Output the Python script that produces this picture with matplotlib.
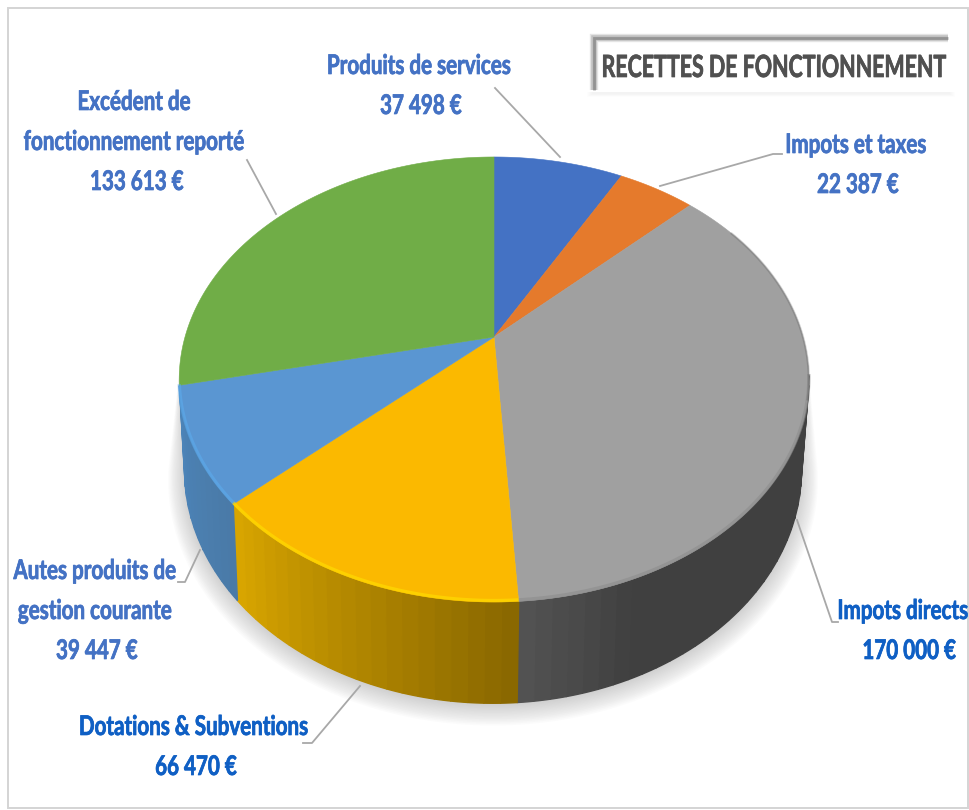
import numpy as np
import matplotlib
matplotlib.use("Agg")
import matplotlib.pyplot as plt
import matplotlib.patheffects as pe
from matplotlib.patches import Polygon, Rectangle
from matplotlib.collections import PolyCollection
from matplotlib.colors import to_rgb
from matplotlib import font_manager as fm
from fontTools.ttLib import TTFont

# ---------- data ----------
title = "RECETTES DE FONCTIONNEMENT"
categories = ["Produits de services", "Impots et taxes", "Impots directs",
              "Dotations & Subventions", "Autes produits de\ngestion courante",
              "Excédent de\nfonctionnement reporté"]
values = [37498, 22387, 170000, 66470, 39447, 133613]
top_colors = ["#4472c4", "#e57a2c", "#a0a0a0", "#fbb900", "#5a96d2", "#70ad47"]
rim_colors = ["#4472c4", "#e57a2c", "#8c8c8c", "#ffe000", "#5cabec", "#70ad47"]
side_start = ["#35599b", "#b25f22", "#404040", "#8a6800", "#4a7aa8", "#578636"]
side_end = ["#35599b", "#b25f22", "#525252", "#d8a500", "#4c84b8", "#578636"]
label_colors = ["#4472c4", "#4472c4", "#0f5fc4", "#0f5fc4", "#4472c4", "#4472c4"]
label_centers = [(419, 66), (856, 145), (903, 611), (194, 727), (95, 571), (134, 102)]
value_offsets = [2, 2, 6, 2, 2, 3]
leaders = [[(560, 157), (495, 88)],
           [(660, 186), (773, 154), (782, 154)],
           [(797, 520), (832, 622), (838, 622)],
           [(360, 686), (312, 743), (303, 743)],
           [(200, 550), (185, 582), (178, 582)],
           [(276, 214), (247, 160)]]

# ---------- style / layout ----------
W, H = 969, 810
LABEL_FS, TITLE_FS = 19.5, 22
LABEL_SQUEEZE, TITLE_SQUEEZE = 0.76, 0.70
CX, CY, A, B, K = 494, 337, 214.4, 309, 0.191
CX2, SX, SY, CY2 = 493, 0.98, 1.05, 425
FRONT = (100, 257.4)
STRIP_DEG = 2.5


def condensed_font(sx, out):
    """Calibri-like narrow face: the bold Lato font with its glyphs narrowed."""
    src = fm.findfont(fm.FontProperties(family="Lato", weight="bold"))
    try:
        f = TTFont(src)
        glyf, hmtx = f["glyf"], f["hmtx"]
        for name in glyf.keys():
            g = glyf[name]
            if g.isComposite():
                for c in g.components:
                    c.x = int(round(c.x * sx))
            elif g.numberOfContours > 0:
                g.coordinates.scale((sx, 1))
                g.coordinates.toInt()
            adv, lsb = hmtx[name]
            hmtx[name] = (int(round(adv * sx)), int(round(lsb * sx)))
        for name in glyf.keys():
            glyf[name].recalcBounds(glyf)
        f.save(out)
        return fm.FontProperties(fname=out)
    except Exception:
        return fm.FontProperties(family="Lato", weight="bold")


label_font = condensed_font(LABEL_SQUEEZE, "lato_label.ttf")
title_font = condensed_font(TITLE_SQUEEZE, "lato_title.ttf")


def project(theta_deg, bottom=False, grow=0.0):
    t = np.radians(theta_deg)
    x, y = np.sin(t), np.cos(t)
    w = 1 + K * y
    px, py = B * x / w, A * y / w
    if bottom:
        return CX2 + px * (SX + grow), CY2 - py * (SY + grow)
    return CX + px, CY - py


fig = plt.figure(figsize=(W / 100, H / 100), dpi=100, facecolor="white")
ax = fig.add_axes([0, 0, 1, 1])
ax.set_xlim(0, W)
ax.set_ylim(H, 0)
ax.axis("off")

# frame
ax.add_patch(Rectangle((8, 7.5), 960, 800, fc="white", ec="#d4d4d4", lw=1.4, zorder=0))

# soft shadow under the pie
th_front = np.linspace(FRONT[0] - 4, FRONT[1] + 4, 200)
for i in range(14):
    g = 0.004 * i
    xs, ys = project(th_front, bottom=True, grow=g)
    xt, yt = project(th_front)
    ax.add_patch(Polygon(np.r_[np.c_[xs, ys + 2 + 0.5 * i], np.c_[xt, yt][::-1]],
                         fc="#808080", ec="none", alpha=0.028, zorder=1))

# slice angles
vals = np.array(values, float)
edges = np.concatenate([[0], np.cumsum(vals) / vals.sum() * 360])

# side strips (visible front part only)
polys, cols = [], []
for i in range(len(vals)):
    a0, a1 = max(edges[i], FRONT[0]), min(edges[i + 1], FRONT[1])
    if a1 <= a0:
        continue
    n = max(2, int((a1 - a0) / STRIP_DEG))
    bounds = np.linspace(a0, a1, n + 1)
    c0, c1 = np.array(to_rgb(side_start[i])), np.array(to_rgb(side_end[i]))
    for j in range(n):
        th = np.linspace(bounds[j], bounds[j + 1], 6)
        xt, yt = project(th)
        xb, yb = project(th, bottom=True)
        polys.append(np.r_[np.c_[xt, yt], np.c_[xb, yb][::-1]])
        f = j / max(1, n - 1)
        if i == 2:
            f = max(0.0, (f - 0.78) / 0.22)
        cols.append(c0 + (c1 - c0) * f)
ax.add_collection(PolyCollection(polys, facecolors=cols, edgecolors=cols, linewidths=1.0, zorder=2))

# top face
for i in range(len(vals)):
    th = np.linspace(edges[i], edges[i + 1], 200)
    xt, yt = project(th)
    pts = np.r_[[[CX, CY]], np.c_[xt, yt]]
    ax.add_patch(Polygon(pts, fc=top_colors[i], ec=top_colors[i], lw=0.4, zorder=3))

# bevel on the visible rim
for i in range(len(vals)):
    lo, hi = max(edges[i], FRONT[0]), min(edges[i + 1], FRONT[1])
    if hi <= lo:
        continue
    th = np.linspace(lo, hi, 120)
    xt, yt = project(th)
    ax.plot(xt, yt - 1.5, color=rim_colors[i], lw=2.4, alpha=0.6, zorder=4,
            solid_capstyle="butt")
th = np.linspace(edges[2] + 12, FRONT[0] + 6, 60)
xt, yt = project(th)
ax.plot(xt, yt, color="#4a4a4a", lw=1.6, alpha=0.25, zorder=4)

# leader lines
for pts in leaders:
    p = np.array(pts)
    ax.plot(p[:, 0], p[:, 1], color="#a8a8a8", lw=1.3, zorder=5)

# labels
for name, v, c, (lx, ly), off in zip(categories, values, label_colors, label_centers, value_offsets):
    thick = [pe.withStroke(linewidth=0.5, foreground=c)]
    lines = name.split("\n")
    for k, line in enumerate(lines):
        ax.text(lx, ly + 40 * k, line, color=c, fontproperties=label_font, fontsize=LABEL_FS,
                ha="center", va="center", zorder=6, path_effects=thick)
    val = f"{v:,}".replace(",", " ") + " €"
    ax.text(lx + off, ly + 40 * len(lines), val, color=c, fontproperties=label_font,
            fontsize=LABEL_FS, ha="center", va="center", zorder=6, path_effects=thick)

# title box
for i in range(6):
    ax.add_patch(Rectangle((592 - i, 92), 358 + 2 * i, 2 + i * 0.6, fc="#c0c0c0", ec="none",
                           alpha=0.03, zorder=5))
for lw, al in [(6, 0.18), (4, 0.3), (2, 0.55)]:
    ax.plot([594, 594, 948], [90, 38, 38], color="#6e6e6e", lw=lw, alpha=al, zorder=5,
            solid_joinstyle="miter", solid_capstyle="butt")
ax.text(774, 68, title, color="#505050", fontproperties=title_font, fontsize=TITLE_FS,
        ha="center", va="center", zorder=6,
        path_effects=[pe.withStroke(linewidth=0.5, foreground="#505050")])

fig.savefig("out.png", dpi=100, facecolor="white")
